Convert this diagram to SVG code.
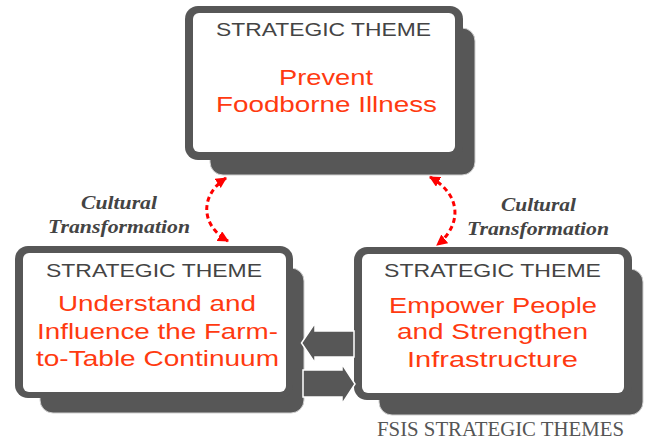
<svg xmlns="http://www.w3.org/2000/svg" width="649" height="443" viewBox="0 0 649 443">
<defs>
<style>
.shadow{fill:#575757;stroke:#d0d0d0;stroke-width:1}
.frame{fill:#575757}
.inner{fill:#ffffff}
.hdr{font-family:"Liberation Sans",Arial,sans-serif;font-size:18.5px;fill:#444444}
.ttl{font-family:"Liberation Sans",Arial,sans-serif;font-size:22px;fill:#ff3a10}
.cult{font-family:"Liberation Serif","Times New Roman",serif;font-size:18.5px;font-style:italic;font-weight:bold;fill:#444444}
.cap{font-family:"Liberation Serif","Times New Roman",serif;font-size:20px;fill:#555555}
.dash{fill:none;stroke:#ff0000;stroke-width:3;stroke-dasharray:5 3.5}
.block{fill:#575757;stroke:#ffffff;stroke-width:1.5}
</style>
<marker id="ah" viewBox="0 0 10 10" refX="9" refY="5" markerWidth="11" markerHeight="11" markerUnits="userSpaceOnUse" orient="auto-start-reverse">
<path d="M0,0 L10,5 L0,10 z" fill="#ff0000"/>
</marker>
</defs>
<rect width="649" height="443" fill="#ffffff"/>

<g id="theme-prevent">
<rect class="shadow" x="210" y="28" width="265" height="147" rx="13"/>
<rect class="frame" x="185" y="6" width="278" height="154" rx="13"/>
<rect class="inner" x="193" y="13" width="262" height="139" rx="6"/>
<text class="hdr" x="216" y="36" textLength="215" lengthAdjust="spacingAndGlyphs">STRATEGIC THEME</text>
<text class="ttl" x="279" y="85" textLength="94" lengthAdjust="spacingAndGlyphs">Prevent</text>
<text class="ttl" x="216" y="112" textLength="221" lengthAdjust="spacingAndGlyphs">Foodborne Illness</text>
</g>

<g id="theme-understand">
<rect class="shadow" x="40" y="268" width="264" height="145" rx="13"/>
<rect class="frame" x="15" y="246" width="278" height="152" rx="13"/>
<rect class="inner" x="23" y="253" width="263" height="139" rx="6"/>
<text class="hdr" x="46" y="277" textLength="216" lengthAdjust="spacingAndGlyphs">STRATEGIC THEME</text>
<text class="ttl" x="58" y="311" textLength="198" lengthAdjust="spacingAndGlyphs">Understand and</text>
<text class="ttl" x="37" y="339" textLength="241" lengthAdjust="spacingAndGlyphs">Influence the Farm-</text>
<text class="ttl" x="36" y="366" textLength="243" lengthAdjust="spacingAndGlyphs">to-Table Continuum</text>
</g>

<g id="theme-empower">
<rect class="shadow" x="379" y="269" width="264" height="146" rx="13"/>
<rect class="frame" x="354" y="247" width="278" height="153" rx="13"/>
<rect class="inner" x="362" y="254" width="262" height="139" rx="6"/>
<text class="hdr" x="384" y="277" textLength="217" lengthAdjust="spacingAndGlyphs">STRATEGIC THEME</text>
<text class="ttl" x="389" y="313" textLength="208" lengthAdjust="spacingAndGlyphs">Empower People</text>
<text class="ttl" x="397" y="339" textLength="191" lengthAdjust="spacingAndGlyphs">and Strengthen</text>
<text class="ttl" x="407" y="367" textLength="171" lengthAdjust="spacingAndGlyphs">Infrastructure</text>
</g>

<g id="connectors">
<path class="dash" d="M226,178 C200,195 200,225 228,241" marker-start="url(#ah)" marker-end="url(#ah)"/>
<path class="dash" d="M430,177 C462,195 462,225 437,245" marker-start="url(#ah)" marker-end="url(#ah)"/>
<polygon class="block" points="354,331 315,331 315,323 301.5,343 315,363 315,357 354,357"/>
<polygon class="block" points="303,370 342,370 342,364 355,384 342,404 342,397 303,397"/>
</g>

<g id="labels">
<text class="cult" x="81" y="209" textLength="76" lengthAdjust="spacingAndGlyphs">Cultural</text>
<text class="cult" x="48" y="233" textLength="142" lengthAdjust="spacingAndGlyphs">Transformation</text>
<text class="cult" x="501" y="211" textLength="75" lengthAdjust="spacingAndGlyphs">Cultural</text>
<text class="cult" x="467" y="235" textLength="142" lengthAdjust="spacingAndGlyphs">Transformation</text>
<text class="cap" x="377" y="436" textLength="247" lengthAdjust="spacingAndGlyphs">FSIS STRATEGIC THEMES</text>
</g>
</svg>
